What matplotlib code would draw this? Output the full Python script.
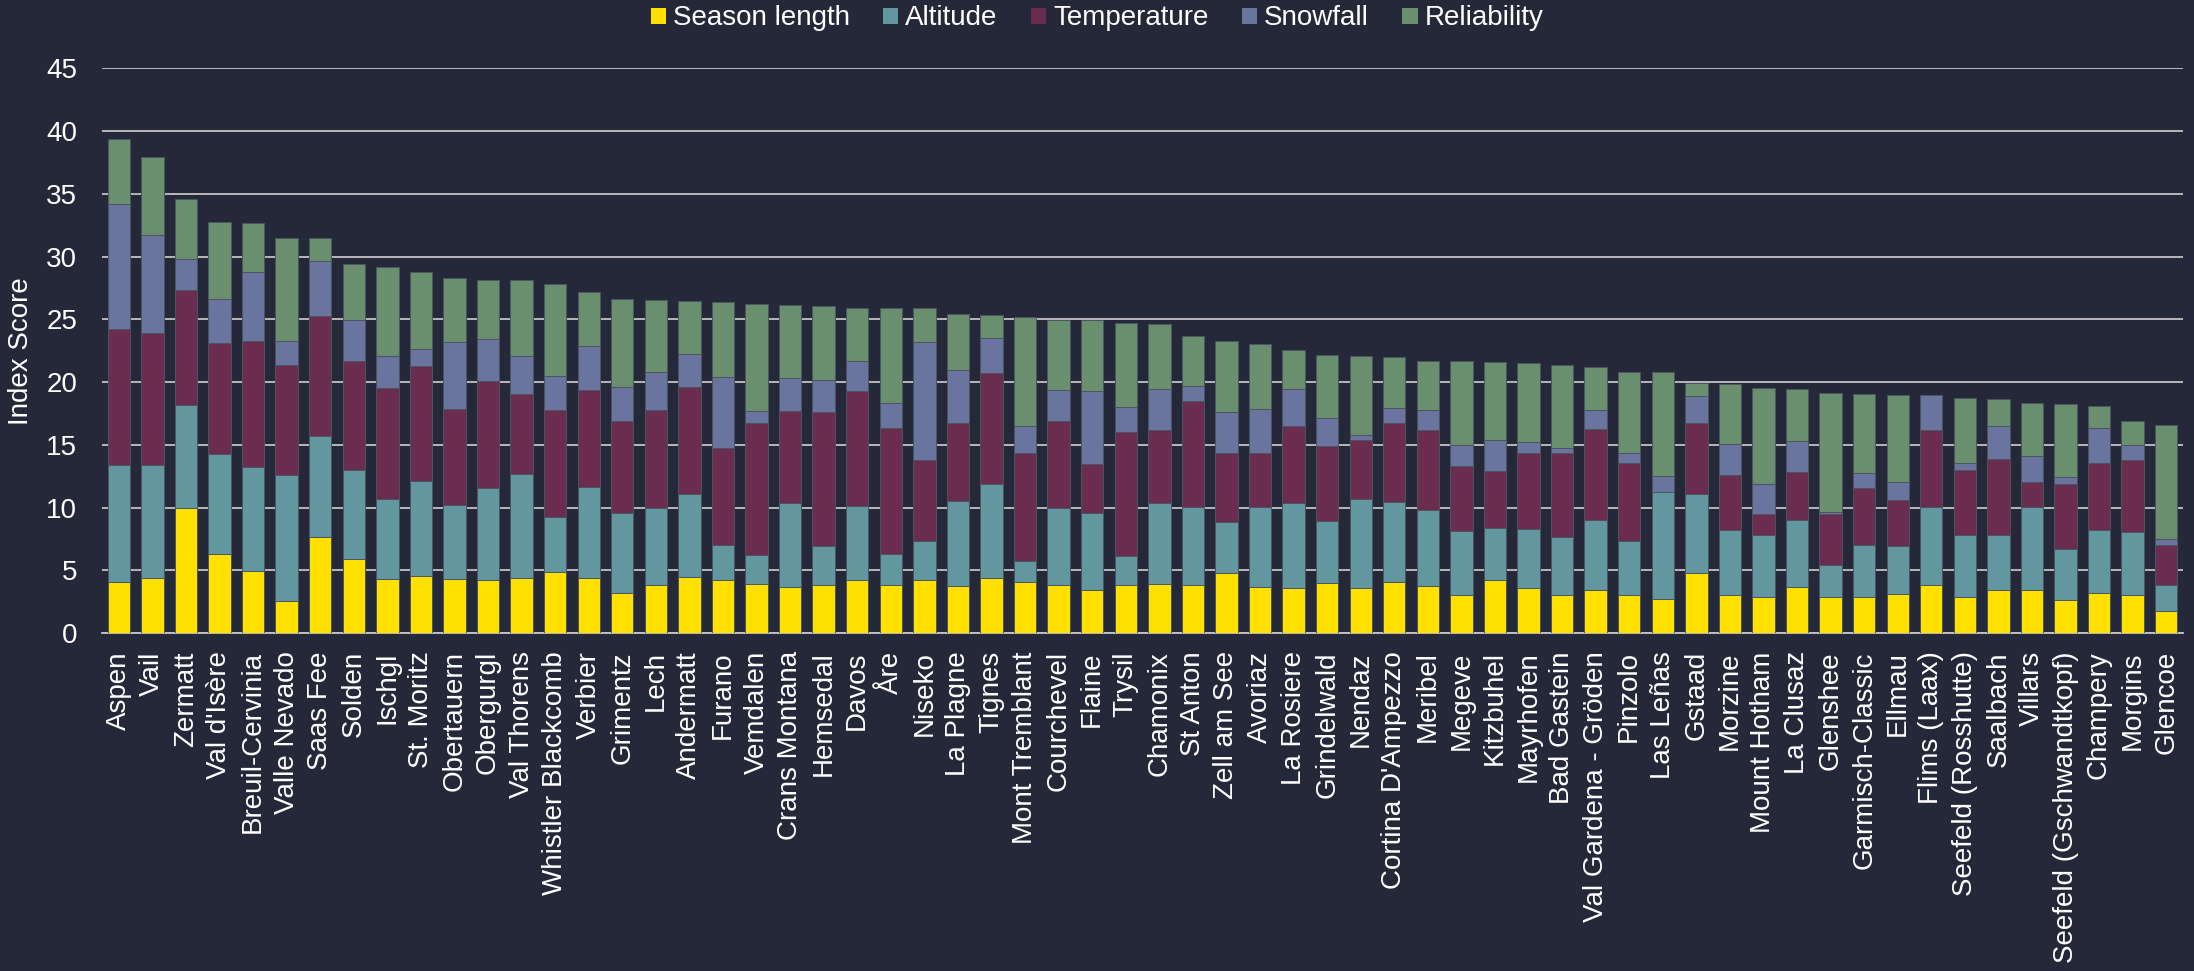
import numpy as np
import matplotlib
matplotlib.use("Agg")
import matplotlib.pyplot as plt

resorts = ["Aspen", "Vail", "Zermatt", "Val d'Isère", "Breuil-Cervinia", "Valle Nevado", "Saas Fee",
           "Solden", "Ischgl", "St. Moritz", "Obertauern", "Obergurgl", "Val Thorens",
           "Whistler Blackcomb", "Verbier", "Grimentz", "Lech", "Andermatt", "Furano", "Vemdalen",
           "Crans Montana", "Hemsedal", "Davos", "Åre", "Niseko", "La Plagne", "Tignes",
           "Mont Tremblant", "Courchevel", "Flaine", "Trysil", "Chamonix", "St Anton", "Zell am See",
           "Avoriaz", "La Rosiere", "Grindelwald", "Nendaz", "Cortina D'Ampezzo", "Meribel", "Megeve",
           "Kitzbuhel", "Mayrhofen", "Bad Gastein", "Val Gardena - Gröden", "Pinzolo", "Las Leñas",
           "Gstaad", "Morzine", "Mount Hotham", "La Clusaz", "Glenshee", "Garmisch-Classic", "Ellmau",
           "Flims (Laax)", "Seefeld (Rosshutte)", "Saalbach", "Villars", "Seefeld (Gschwandtkopf)",
           "Champery", "Morgins", "Glencoe"]

season = [4.06, 4.37, 9.96, 6.30, 4.96, 2.57, 7.66, 5.92, 4.34, 4.56, 4.34, 4.25, 4.40, 4.84, 4.40,
          3.23, 3.80, 4.47, 4.22, 3.94, 3.66, 3.80, 4.22, 3.85, 4.25, 3.78, 4.40, 4.06, 3.85, 3.44,
          3.85, 3.94, 3.85, 4.81, 3.66, 3.60, 4.00, 3.60, 4.09, 3.78, 3.04, 4.22, 3.60, 3.04, 3.44,
          3.00, 2.70, 4.78, 3.00, 2.85, 3.69, 2.85, 2.88, 3.13, 3.82, 2.85, 3.44, 3.44, 2.67, 3.23,
          3.04, 1.74]
altitude = [9.34, 9.03, 8.24, 8.00, 8.24, 10.03, 8.04, 7.08, 6.33, 7.57, 5.86, 7.29, 8.26, 4.43, 7.23,
            6.35, 6.16, 6.60, 2.82, 2.29, 6.73, 3.12, 5.92, 2.48, 3.07, 6.73, 7.48, 1.65, 6.08, 6.14,
            2.32, 6.42, 6.20, 4.03, 6.39, 6.76, 4.93, 7.07, 6.33, 6.05, 5.12, 4.19, 4.68, 4.62, 5.59,
            4.35, 8.53, 6.29, 5.25, 5.00, 5.30, 2.55, 4.13, 3.82, 6.20, 4.97, 4.38, 6.61, 4.03, 4.96,
            4.99, 2.08]
temperature = [10.80, 10.50, 9.10, 8.80, 10.10, 8.80, 9.60, 8.70, 8.87, 9.17, 7.67, 8.53, 6.42, 8.53,
               7.72, 7.36, 7.84, 8.50, 7.69, 10.52, 7.32, 10.73, 9.18, 10.02, 6.51, 6.24, 8.84, 8.68,
               7.01, 3.88, 9.87, 5.86, 8.47, 5.55, 4.34, 6.14, 5.99, 4.75, 6.36, 6.36, 5.15, 4.52,
               6.05, 6.70, 7.22, 6.20, 0.00, 5.71, 4.34, 1.67, 3.88, 4.06, 4.53, 3.69, 6.17, 5.15,
               6.04, 2.02, 5.18, 5.36, 5.74, 3.22]
snowfall = [10.00, 7.80, 2.50, 3.50, 5.45, 1.90, 4.35, 3.27, 2.51, 1.30, 5.30, 3.38, 3.02, 2.70, 3.55,
            2.66, 3.04, 2.67, 5.71, 0.93, 2.64, 2.51, 2.39, 1.98, 9.34, 4.19, 2.76, 2.14, 2.41, 5.83,
            1.95, 3.26, 1.14, 3.23, 3.48, 2.92, 2.20, 0.34, 1.12, 1.61, 1.67, 2.42, 0.93, 0.37, 1.49,
            0.84, 1.30, 2.08, 2.48, 2.33, 2.42, 0.16, 1.21, 1.36, 2.76, 0.62, 2.67, 2.07, 0.53, 2.83,
            1.18, 0.44]
reliability = [5.20, 6.20, 4.80, 6.15, 3.95, 8.20, 1.85, 4.43, 7.15, 6.20, 5.12, 4.68, 6.00, 7.35, 4.27,
               7.00, 5.74, 4.25, 5.92, 8.56, 5.80, 5.92, 4.22, 7.54, 2.70, 4.49, 1.86, 8.62, 5.59, 5.65,
               6.73, 5.15, 3.98, 5.67, 5.14, 3.10, 5.00, 6.29, 4.12, 3.91, 6.70, 6.24, 6.27, 6.61, 3.48,
               6.45, 8.25, 1.05, 4.75, 7.69, 4.13, 9.49, 6.33, 6.95, 0.00, 5.14, 2.14, 4.22, 5.83, 1.70,
               1.95, 9.08]

series_names = ["Season length", "Altitude", "Temperature", "Snowfall", "Reliability"]
series_colors = ["#FFE000", "#62979F", "#6A2D4F", "#6A759F", "#6A8F6E"]
y_ticks = [0, 5, 10, 15, 20, 25, 30, 35, 40, 45]

BG = "#252839"
FONT = ["Liberation Sans", "DejaVu Sans"]
plt.rcParams["font.family"] = FONT

fig = plt.figure(figsize=(21.94, 9.71), dpi=100, facecolor=BG)
ax = fig.add_axes([0.0465, 0.348, 0.9485, 0.5816], facecolor=BG)

x = np.arange(len(resorts))
bottom = np.zeros(len(resorts))
for name, vals, col in zip(series_names, [season, altitude, temperature, snowfall, reliability], series_colors):
    v = np.array(vals)
    ax.bar(x, v, bottom=bottom, width=0.667, color=col, edgecolor="#4a5560", linewidth=0.7,
           label=name, zorder=3)
    bottom += v

ax.set_xlim(-0.5, len(resorts) - 0.5)
ax.set_ylim(0, 45)
ax.set_yticks(y_ticks)
ax.yaxis.grid(True, color="#C4C4C4", linewidth=1.3, zorder=0)
ax.set_axisbelow(True)
for s in ["left", "right", "top"]:
    ax.spines[s].set_visible(False)
ax.spines["bottom"].set_color("#C4C4C4")
ax.spines["bottom"].set_linewidth(1.3)

ax.set_xticks(x)
ax.set_xticklabels(resorts, rotation=90, fontsize=20, color="white")
ax.tick_params(axis="x", length=0, pad=13)
ax.tick_params(axis="y", length=0, pad=18, labelsize=20, labelcolor="white")
ax.set_ylabel("Index Score", fontsize=20, color="white", labelpad=9)

leg = fig.legend(loc="center", bbox_to_anchor=(0.5, 0.981), ncol=5, frameon=False,
                 fontsize=20, handlelength=0.55, handleheight=0.5, handletextpad=0.25,
                 columnspacing=1.2, labelcolor="white")
for h in leg.legend_handles:
    h.set_edgecolor("none")

fig.savefig("out.png", dpi=100, facecolor=BG)
